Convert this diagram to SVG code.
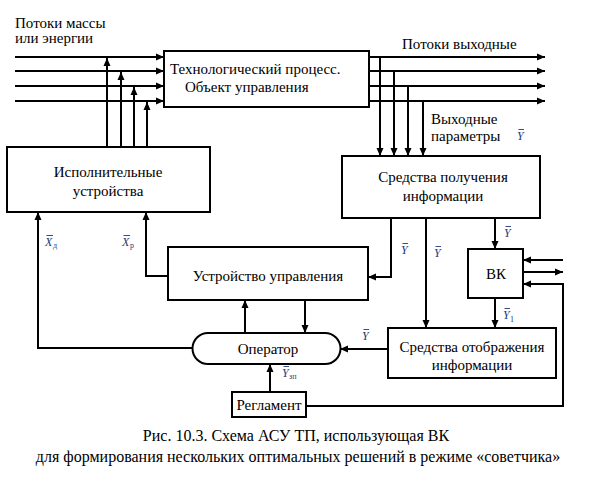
<svg xmlns="http://www.w3.org/2000/svg" width="593" height="477" viewBox="0 0 593 477">
<defs>
<marker id="ar" markerUnits="userSpaceOnUse" markerWidth="9" markerHeight="8" refX="8" refY="4" orient="auto">
<path d="M0,0.5 L8,4 L0,7.5 z" fill="#000"/>
</marker>
</defs>
<style>
.box{fill:#fff;stroke:#000;stroke-width:2}
.ln{fill:none;stroke:#000;stroke-width:2}
.a{marker-end:url(#ar)}
.t{font-size:15px;fill:#000}
.c{text-anchor:middle}
.y{font-size:12px;font-style:italic;fill:#233a7a}
.s{font-size:8px;fill:#233a7a}
.bar{stroke:#233a7a;stroke-width:0.9;fill:none}
.cap{font-size:16px;fill:#000;text-anchor:middle}
</style>
<rect width="593" height="477" fill="#fff"/>

<g id="connectors">
<path class="ln a" d="M15,57 H164"/>
<path class="ln a" d="M15,71 H164"/>
<path class="ln a" d="M15,86 H164"/>
<path class="ln a" d="M15,101 H164"/>
<path class="ln a" d="M107,147 V58"/>
<path class="ln a" d="M121,147 V72"/>
<path class="ln a" d="M134,147 V87"/>
<path class="ln a" d="M147,147 V102"/>
<path class="ln a" d="M369,57 H545"/>
<path class="ln a" d="M369,71 H545"/>
<path class="ln a" d="M369,86 H545"/>
<path class="ln a" d="M369,101 H545"/>
<path class="ln a" d="M380,57 V156"/>
<path class="ln a" d="M394,71 V156"/>
<path class="ln a" d="M408,86 V156"/>
<path class="ln a" d="M423,101 V156"/>
<path class="ln a" d="M391,218 V277 H368"/>
<path class="ln a" d="M426,218 V328"/>
<path class="ln a" d="M495,218 V249"/>
<path class="ln a" d="M495,298 V328"/>
<path class="ln a" d="M563,260 H523"/>
<path class="ln a" d="M523,272 H563"/>
<path class="ln a" d="M306,406 H563 V284 H523"/>
<path class="ln a" d="M388,349 H340"/>
<path class="ln a" d="M245,333 V300"/>
<path class="ln a" d="M305,300 V333"/>
<path class="ln a" d="M270,392 V364"/>
<path class="ln a" d="M193,348 H38 V212"/>
<path class="ln a" d="M168,276 H146 V212"/>
</g>

<g font-family="Liberation Serif, serif">
<g id="tech-process">
<rect class="box" x="164" y="51" width="205" height="56"/>
<text class="t" x="170" y="74">Технологический процесс.</text>
<text class="t" x="185" y="92">Объект управления</text>
</g>

<g id="actuators">
<rect class="box" x="7" y="147" width="203" height="65"/>
<text class="t c" x="108" y="177">Исполнительные</text>
<text class="t c" x="108" y="196">устройства</text>
</g>

<g id="info-acquisition">
<rect class="box" x="342" y="156" width="198" height="62"/>
<text class="t c" x="443" y="182">Средства получения</text>
<text class="t c" x="443" y="201">информации</text>
</g>

<g id="control-device">
<rect class="box" x="168" y="247" width="200" height="53"/>
<text class="t c" x="268" y="281">Устройство управления</text>
</g>

<g id="vk">
<rect class="box" x="468" y="249" width="55" height="49"/>
<text class="t c" x="496" y="279">ВК</text>
</g>

<g id="info-display">
<rect class="box" x="388" y="328" width="168" height="50"/>
<text class="t c" x="472" y="352">Средства отображения</text>
<text class="t c" x="472" y="370">информации</text>
</g>

<g id="operator">
<path class="box" d="M208,333 H325 A15.5,15.5 0 0 1 325,364 H208 A15.5,15.5 0 0 1 208,333 z"/>
<text class="t c" x="268" y="354">Оператор</text>
</g>

<g id="reglament">
<rect class="box" x="232" y="392" width="74" height="25"/>
<text class="t c" x="269" y="410">Регламент</text>
</g>

<g id="labels">
<text class="t" x="15" y="28" font-size="14">Потоки массы</text>
<text class="t" x="15" y="43" font-size="14">или энергии</text>
<text class="t" x="402" y="49">Потоки выходные</text>
<text class="t" x="431" y="124">Выходные</text>
<text class="t" x="431" y="141">параметры</text>
<g><text class="y" x="517" y="140">Y</text><path class="bar" d="M518.5,129.5 H524"/></g>
<g><text class="y" x="45" y="246">X</text><path class="bar" d="M46.5,235.5 H53"/><text class="s" x="53" y="248">д</text></g>
<g><text class="y" x="122" y="246">X</text><path class="bar" d="M123.5,235.5 H130"/><text class="s" x="130" y="248">р</text></g>
<g><text class="y" x="401" y="254">Y</text><path class="bar" d="M402.5,243.5 H408"/></g>
<g><text class="y" x="434" y="257">Y</text><path class="bar" d="M435.5,246.5 H441"/></g>
<g><text class="y" x="504" y="237">Y</text><path class="bar" d="M505.5,226.5 H511"/></g>
<g><text class="y" x="503" y="319">Y</text><path class="bar" d="M504.5,308.5 H510"/><text class="s" x="510" y="322" font-size="10">1</text></g>
<g><text class="y" x="362" y="340">Y</text><path class="bar" d="M363.5,329.5 H369"/></g>
<g><text class="y" x="282" y="377">Y</text><path class="bar" d="M283.5,366.5 H289"/><text class="s" x="289" y="379">зп</text></g>
</g>

<g id="caption">
<text class="cap" x="296" y="441">Рис. 10.3. Схема АСУ ТП, использующая ВК</text>
<text class="cap" x="298" y="462">для формирования нескольких оптимальных решений в режиме «советчика»</text>
</g>
</g>
</svg>
